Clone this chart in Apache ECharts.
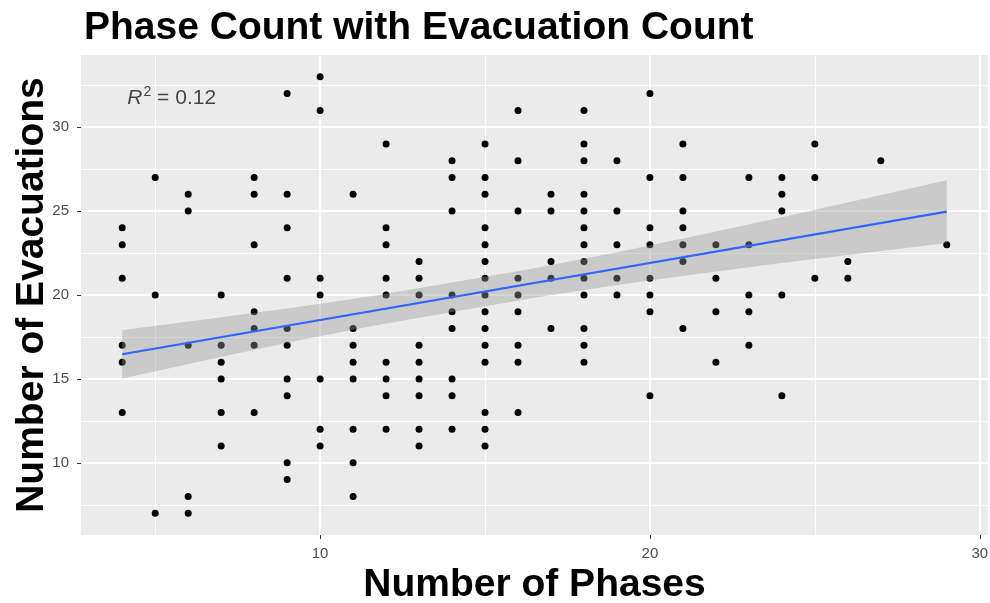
<!DOCTYPE html>
<html>
<head>
<meta charset="utf-8">
<title>Phase Count with Evacuation Count</title>
<script src="https://cdn.jsdelivr.net/npm/echarts@6/dist/echarts.min.js"></script>
<style>
  html, body { margin: 0; padding: 0; background: #ffffff; }
  #chart { width: 990px; height: 603px; }
</style>
</head>
<body>
<div id="chart"></div>
<script>
// Observations: number of phases and number of evacuations per record
const phaseCounts = [
  4, 4, 4, 4, 4, 4,
  5, 5, 5,
  6, 6, 6, 6, 6,
  7, 7, 7, 7, 7, 7,
  8, 8, 8, 8, 8, 8, 8,
  9, 9, 9, 9, 9, 9, 9, 9, 9, 9,
  10, 10, 10, 10, 10, 10, 10,
  11, 11, 11, 11, 11, 11, 11, 11,
  12, 12, 12, 12, 12, 12, 12, 12, 12,
  13, 13, 13, 13, 13, 13, 13, 13, 13,
  14, 14, 14, 14, 14, 14, 14, 14, 14,
  15, 15, 15, 15, 15, 15, 15, 15, 15, 15, 15, 15, 15, 15, 15,
  16, 16, 16, 16, 16, 16, 16, 16, 16,
  17, 17, 17, 17, 17,
  18, 18, 18, 18, 18, 18, 18, 18, 18, 18, 18, 18, 18,
  19, 19, 19, 19, 19,
  20, 20, 20, 20, 20, 20, 20, 20,
  21, 21, 21, 21, 21, 21, 21,
  22, 22, 22, 22,
  23, 23, 23, 23, 23,
  24, 24, 24, 24, 24,
  25, 25, 25,
  26, 26,
  27,
  29
];
const evacuationCounts = [
  24, 23, 21, 17, 16, 13,
  27, 20, 7,
  26, 25, 17, 8, 7,
  20, 17, 16, 15, 13, 11,
  27, 26, 23, 19, 18, 17, 13,
  32, 26, 24, 21, 18, 17, 15, 14, 10, 9,
  33, 31, 21, 20, 15, 12, 11,
  26, 18, 17, 16, 15, 12, 10, 8,
  29, 24, 23, 21, 20, 16, 15, 14, 12,
  22, 21, 20, 17, 16, 15, 14, 12, 11,
  28, 27, 25, 20, 19, 18, 15, 14, 12,
  29, 27, 26, 24, 23, 22, 21, 20, 19, 18, 17, 16, 13, 12, 11,
  31, 28, 25, 21, 20, 19, 17, 16, 13,
  26, 25, 22, 21, 18,
  31, 29, 28, 26, 25, 24, 23, 22, 21, 20, 18, 17, 16,
  28, 25, 23, 21, 20,
  32, 27, 24, 23, 21, 20, 19, 14,
  29, 27, 25, 24, 23, 22, 18,
  23, 21, 19, 16,
  27, 23, 20, 19, 17,
  27, 26, 25, 20, 14,
  29, 27, 21,
  22, 21,
  28,
  23
];

// Linear trend and its 95% confidence band
const fitX = [4, 29];
const fitY = [16.47, 24.97];
const bandX = [4, 6.5, 9, 11.5, 14, 16.5, 19, 21.5, 24, 26.5, 29];
const bandUpper = [17.92, 18.54, 19.19, 19.91, 20.75, 21.60, 22.54, 23.57, 24.64, 25.74, 26.84];
const bandLower = [15.02, 16.10, 17.15, 18.13, 18.99, 19.84, 20.60, 21.27, 21.90, 22.50, 23.10];

// Axis ticks and grid lines
const xTicks = [10, 20, 30];
const xMinorLines = [5, 15, 25];
const yTicks = [10, 15, 20, 25, 30];
const yMinorLines = [7.5, 12.5, 17.5, 22.5, 27.5, 32.5];

// Annotation
const r2Label = '0.12';
const r2Position = [5.5, 31.75];

const points = phaseCounts.map((p, i) => [p, evacuationCounts[i]]);
const fitLine = fitX.map((x, i) => [x, fitY[i]]);

// Axis ranges padded 5% each side of the data
const xLo = Math.min(...phaseCounts), xHi = Math.max(...phaseCounts);
const xPad = (xHi - xLo) * 0.05;
const yMinV = Math.min(...evacuationCounts), yMaxV = Math.max(...evacuationCounts);
const yPad = (yMaxV - yMinV) * 0.05;

const gridLine = (w) => ({ color: '#ffffff', width: w, type: 'solid' });
const FONT = 'Liberation Sans, Arial, sans-serif';

const chart = echarts.init(document.getElementById('chart'), null, { renderer: 'canvas' });
chart.setOption({
  animation: false,
  backgroundColor: '#ffffff',
  textStyle: { fontFamily: FONT },
  title: {
    text: 'Phase Count with Evacuation Count',
    left: 79,
    top: 4,
    textStyle: { fontSize: 39, fontWeight: 'bold', color: '#000000', fontFamily: FONT }
  },
  grid: {
    left: 81, right: 2, top: 55, bottom: 68,
    containLabel: false,
    outerBoundsMode: 'none',
    show: true, backgroundColor: '#EBEBEB', borderWidth: 0
  },
  xAxis: {
    type: 'value',
    min: xLo - xPad,
    max: xHi + xPad,
    name: 'Number of Phases',
    nameLocation: 'middle',
    nameGap: 31,
    nameTextStyle: { fontSize: 39, fontWeight: 'bold', color: '#000000', fontFamily: FONT },
    axisLine: { show: false },
    axisTick: { show: true, customValues: xTicks, length: 4, lineStyle: { color: '#333333', width: 1 } },
    axisLabel: { customValues: xTicks, color: '#4D4D4D', fontSize: 15, margin: 11 },
    splitLine: { show: false }
  },
  yAxis: {
    type: 'value',
    min: yMinV - yPad,
    max: yMaxV + yPad,
    name: 'Number of Evacuations',
    nameLocation: 'middle',
    nameRotate: 90,
    nameGap: 29,
    nameMoveOverlap: false,
    nameTextStyle: { fontSize: 39, fontWeight: 'bold', color: '#000000', fontFamily: FONT },
    axisLine: { show: false },
    axisTick: { show: true, customValues: yTicks, length: 4, lineStyle: { color: '#333333', width: 1 } },
    axisLabel: { customValues: yTicks, color: '#4D4D4D', fontSize: 15, margin: 12 },
    splitLine: { show: false }
  },
  series: [
    {
      // panel grid lines
      type: 'line',
      data: [],
      z: 1,
      silent: true,
      markLine: {
        z: 1,
        silent: true,
        symbol: ['none', 'none'],
        label: { show: false },
        animation: false,
        data: [
          ...xMinorLines.map(v => ({ xAxis: v, lineStyle: gridLine(0.9) })),
          ...yMinorLines.map(v => ({ yAxis: v, lineStyle: gridLine(0.9) })),
          ...xTicks.map(v => ({ xAxis: v, lineStyle: gridLine(1.8) })),
          ...yTicks.map(v => ({ yAxis: v, lineStyle: gridLine(1.8) }))
        ]
      }
    },
    {
      type: 'scatter',
      data: points,
      symbol: 'circle',
      symbolSize: 7,
      itemStyle: { color: '#000000', opacity: 1 },
      z: 2
    },
    {
      // confidence band
      type: 'custom',
      z: 3,
      silent: true,
      clip: true,
      data: [fitLine[0]],
      renderItem: function (params, api) {
        const pts = [];
        for (let k = 0; k < bandX.length; k++) pts.push(api.coord([bandX[k], bandUpper[k]]));
        for (let k = bandX.length - 1; k >= 0; k--) pts.push(api.coord([bandX[k], bandLower[k]]));
        return { type: 'polygon', shape: { points: pts }, style: { fill: 'rgba(153,153,153,0.4)' } };
      }
    },
    {
      type: 'line',
      data: fitLine,
      showSymbol: false,
      symbol: 'none',
      lineStyle: { color: '#3366FF', width: 2.2 },
      z: 4,
      silent: true
    },
    {
      // R-squared annotation
      type: 'scatter',
      data: [r2Position],
      symbolSize: 0,
      z: 5,
      silent: true,
      label: {
        show: true,
        position: 'inside',
        formatter: '{i|R}{s|2}{n| = ' + r2Label + '}',
        rich: {
          i: { fontSize: 21, fontStyle: 'italic', color: '#1A1A1A', lineHeight: 25, fontFamily: FONT },
          s: { fontSize: 14, color: '#1A1A1A', lineHeight: 25, verticalAlign: 'top', padding: [0, 0, 0, 1], fontFamily: FONT },
          n: { fontSize: 21, color: '#1A1A1A', lineHeight: 25, fontFamily: FONT }
        }
      }
    }
  ]
});
</script>
</body>
</html>
